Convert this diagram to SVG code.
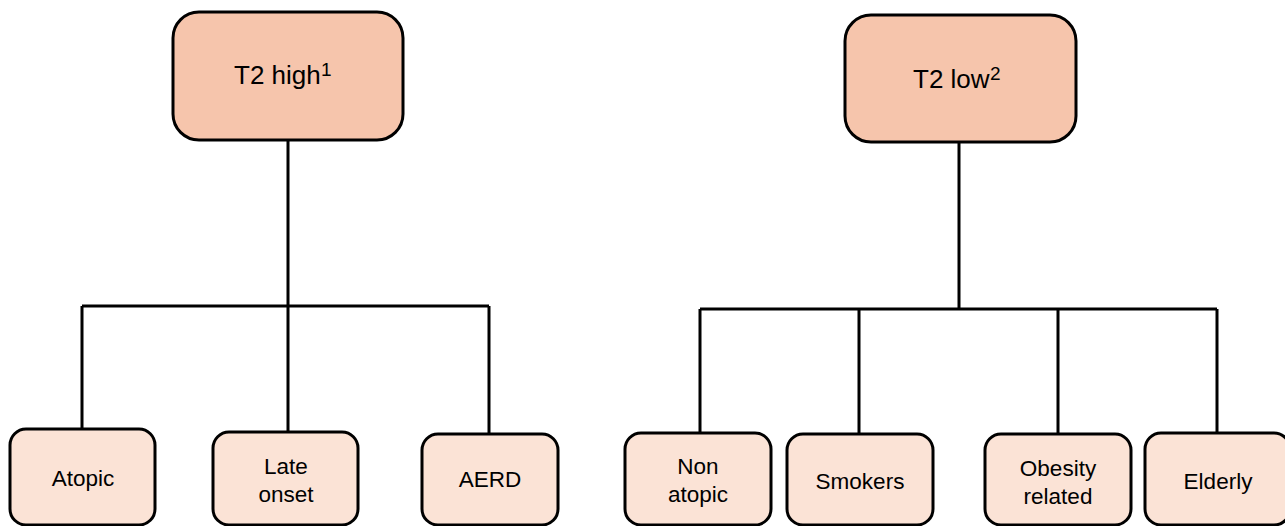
<svg xmlns="http://www.w3.org/2000/svg" width="1285" height="526" viewBox="0 0 1285 526">
<style>
.top{fill:#F6C5AC;stroke:#000;stroke-width:3}
.leaf{fill:#FBE3D6;stroke:#000;stroke-width:3}
.ln{stroke:#000;stroke-width:3;fill:none}
text{font-family:"Liberation Sans",Arial,sans-serif;fill:#000;text-anchor:middle}
.t1{font-size:26px;text-anchor:start}
.sup{font-size:19px}
.t2{font-size:22.5px}
</style>
<rect width="1285" height="526" fill="#fff"/>
<g id="connectors">
<path class="ln" d="M288 140V306M82 306H489M82 306V429M288 306V432M489 306V434"/>
<path class="ln" d="M959 142V309M700 309H1217M700 309V433M859 309V434M1058 309V434M1217 309V433"/>
</g>
<g id="t2high"><rect class="top" x="173" y="12" width="230" height="128" rx="26"/><text class="t1" x="234" y="84">T2 high<tspan class="sup" x="321" dy="-8">1</tspan></text></g>
<g id="t2low"><rect class="top" x="845" y="15" width="231" height="127" rx="26"/><text class="t1" x="913" y="88">T2 low<tspan class="sup" x="990" dy="-8">2</tspan></text></g>
<g id="atopic"><rect class="leaf" x="10" y="429" width="145" height="96" rx="16"/><text class="t2" x="83" y="486">Atopic</text></g>
<g id="lateonset"><rect class="leaf" x="213" y="432" width="145" height="93" rx="16"/><text class="t2" x="286" y="474">Late</text><text class="t2" x="286" y="502">onset</text></g>
<g id="aerd"><rect class="leaf" x="422" y="434" width="136" height="91" rx="16"/><text class="t2" x="490" y="487">AERD</text></g>
<g id="nonatopic"><rect class="leaf" x="625" y="433" width="146" height="92" rx="16"/><text class="t2" x="698" y="474">Non</text><text class="t2" x="698" y="502">atopic</text></g>
<g id="smokers"><rect class="leaf" x="787" y="434" width="146" height="91" rx="16"/><text class="t2" x="860" y="489">Smokers</text></g>
<g id="obesity"><rect class="leaf" x="985" y="434" width="146" height="91" rx="16"/><text class="t2" x="1058" y="476">Obesity</text><text class="t2" x="1058" y="504">related</text></g>
<g id="elderly"><rect class="leaf" x="1145" y="433" width="145" height="92" rx="16"/><text class="t2" x="1218" y="489">Elderly</text></g>
</svg>
